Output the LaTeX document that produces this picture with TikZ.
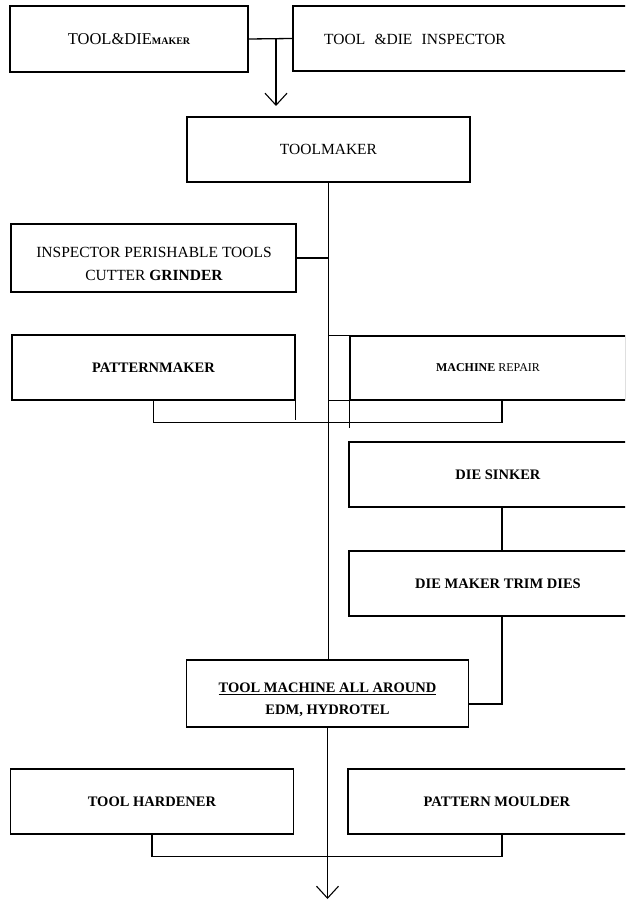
\documentclass[tikz,border=0pt]{standalone}
\usepackage{fontspec}
\setmainfont{Liberation Serif}
\usetikzlibrary{
    arrows.meta
}

\begin{document}
\begin{tikzpicture}[
    x=1pt,
    y=-1pt,
    font=\fontsize{14.5}{22}\selectfont,
    job/.style={
        rectangle,
        draw=black,
        line width=1.5pt,
        align=center,
        inner sep=0pt,
        minimum height=65pt
    },
    plain/.style={
        font=\fontsize{15.5}{22.5}\selectfont,
        align=center
    },
    link/.style={
        draw=black,
        line width=1.3pt
    },
    arrow/.style={
        link,
        -{Straight Barb[length=12pt,width=22pt,line width=1.1pt]}
    }
]

\clip (0,0) rectangle (625,904);

% =========================================================
% Top row
% =========================================================
\node[job, minimum width=238pt, minimum height=66pt] (tdmaker) at (129,39)
{{\fontsize{16.5}{20}\selectfont TOOL\&DIE}{\fontsize{10}{12}\selectfont\bfseries MAKER}};

\node[job, minimum width=357pt] (tdinsp) at (471.5,38.5) {};
\node[plain] (tdinsplabel) at (415,39.5)
{TOOL\hspace{0.6em}\&DIE\hspace{0.6em}INSPECTOR};

\node[job, plain, minimum width=283pt] (toolmaker) at (328.5,149.5)
{TOOLMAKER};

% =========================================================
% Middle jobs
% =========================================================
\node[job, minimum width=285pt, minimum height=68pt] (perish) at (153.5,258) {};
\node[plain] (perishlabel) at (154,264)
{INSPECTOR PERISHABLE TOOLS\\CUTTER \textbf{GRINDER}};

\node[job, minimum width=283pt] (pattern) at (153.5,367.5)
{\textbf{PATTERNMAKER}};

\node[job, minimum width=276pt, minimum height=64pt,
    font=\fontsize{12}{14}\selectfont] (repair) at (488,368)
{\textbf{MACHINE} REPAIR};

\node[job, minimum width=298pt] (sinker) at (498,474.5)
{\textbf{DIE SINKER}};

\node[job, minimum width=298pt] (trim) at (498,583.5)
{\textbf{DIE MAKER TRIM DIES}};

% =========================================================
% Lower jobs
% =========================================================
\node[job, minimum width=282pt, minimum height=67pt] (allround) at (327.5,693.5) {};
\node[align=center] (allroundlabel) at (327.5,700)
{\textbf{\underline{TOOL MACHINE ALL AROUND}}\\\textbf{EDM, HYDROTEL}};

\node[job, minimum width=283pt] (hardener) at (152,801.5)
{\textbf{TOOL HARDENER}};

\node[job, minimum width=298pt] (moulder) at (497,801.5)
{\textbf{PATTERN MOULDER}};

% =========================================================
% Helper points
% =========================================================
\coordinate (topjoin) at (276,39);
\coordinate (topin) at (276,106);
\coordinate (dropx) at (502,0);
\coordinate (trimjoin) at (502,704);
\coordinate (bottomout) at (327.5,899);

% =========================================================
% Connectors
% =========================================================
\draw[link] (tdmaker.east) -- (tdinsp.west);
\draw[arrow] (topjoin) -- (topin);

\draw[link] (toolmaker.south) -- (toolmaker.south |- allround.north);
\draw[link] (perish.east) -- (perish.east -| toolmaker.south);

\draw[link] (repair.north west -| toolmaker.south) -- (repair.north west);
\draw[link] (repair.south west -| toolmaker.south) -- (repair.south west);
\draw[link] (repair.south west) -- ++(0,27);
\draw[link] (pattern.south east) -- ++(0,19);
\draw[link] (pattern.south) -- ++(0,22) -| (repair.south -| dropx);

\draw[link] (sinker.south -| dropx) -- (trim.north -| dropx);
\draw[link] (trim.south -| dropx) -- (trimjoin) -- (trimjoin -| allround.east);

\draw[arrow] (allround.south) -- (bottomout);
\draw[link] (hardener.south) -- ++(0,22) -| (moulder.south -| dropx);

\end{tikzpicture}
\end{document}
